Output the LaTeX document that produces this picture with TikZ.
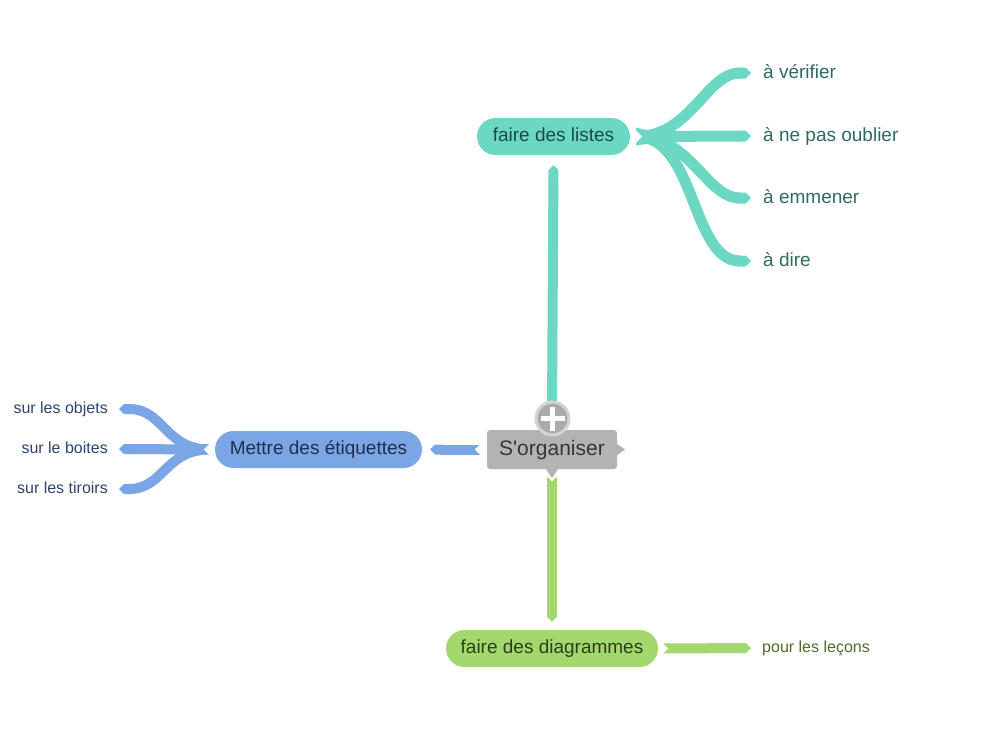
\documentclass[tikz,border=0pt]{standalone}
\usepackage{fontspec}
\setmainfont{Liberation Sans}
\usetikzlibrary{arrows.meta,calc}
\definecolor{tealF}{HTML}{6CD7C3}
\definecolor{tealT}{HTML}{2E6B60}
\definecolor{tealB}{HTML}{1E4A42}
\definecolor{blueF}{HTML}{7BA6E6}
\definecolor{blueT}{HTML}{2C4570}
\definecolor{blueB}{HTML}{1E2F4F}
\definecolor{greenF}{HTML}{A4D86F}
\definecolor{greenT}{HTML}{4D6B2D}
\definecolor{greenB}{HTML}{2D3D1C}
\definecolor{greyF}{HTML}{B3B3B3}
\definecolor{greyT}{HTML}{363636}
\definecolor{plusF}{HTML}{ABABAB}
\definecolor{plusR}{HTML}{D4D4D4}
\begin{document}
\begin{tikzpicture}[x=1pt,y=-1pt,
  pill/.style={rounded corners=18.5pt, minimum height=37pt, inner sep=0pt,
    font=\fontsize{19}{22}\selectfont, text height=14pt, text depth=4pt},
  leafR/.style={inner sep=0pt, anchor=west, font=\fontsize{19}{22}\selectfont, text height=14pt, text depth=4pt},
  leafL/.style={inner sep=0pt, anchor=east, font=\fontsize{16}{19}\selectfont, text height=12pt, text depth=3.5pt},
  branch/.style={line width=10pt, -{Triangle Cap}},
  tbranch/.style={line width=11pt, -{Triangle Cap}},
  notch/.style={fill=white, draw=none},
]
\useasboundingbox (0,0) rectangle (1006,734);

% nodes
\node[pill, fill=tealF, text=tealB, minimum width=153pt] (listes) at (553.5,136.5) {faire des listes};
\node[pill, fill=blueF, text=blueB, minimum width=207pt] (etiq) at (318.5,449.5) {Mettre des étiquettes};
\node[pill, fill=greenF, text=greenB, minimum width=212pt] (diag) at (552,648.5) {faire des diagrammes};

\node[leafR, text=tealT] (v1) at (763,73) {à vérifier};
\node[leafR, text=tealT] (v2) at (763,136) {à ne pas oublier};
\node[leafR, text=tealT] (v3) at (763,198) {à emmener};
\node[leafR, text=tealT] (v4) at (763,261) {à dire};

\node[leafL, text=blueT] (b1) at (108,409) {sur les objets};
\node[leafL, text=blueT] (b2) at (108,449) {sur le boites};
\node[leafL, text=blueT] (b3) at (108,489) {sur les tiroirs};

\node[leafL, anchor=west, text=greenT] (g1) at (762,648) {pour les leçons};

% central node position
\coordinate (cpos) at (552,449.5);

% teal branches
\coordinate (troot) at ($(listes.east)+(6,0)$);
\draw[tbranch, tealF] (troot) .. controls +(55,0) and +(-45,0) .. ($(v1.west)+(-12,0)$);
\draw[tbranch, tealF] (troot) -- ($(v2.west)+(-12,0)$);
\draw[tbranch, tealF] (troot) .. controls +(55,0) and +(-45,0) .. ($(v3.west)+(-12,0)$);
\draw[tbranch, tealF] (troot) .. controls +(60,0) and +(-60,0) .. ($(v4.west)+(-12,0)$);
\fill[tealF] (troot) ++(0,-9) .. controls +(20,5) .. ++(40,3) -- ++(0,12) .. controls +(-20,0) .. ++(-40,3) -- cycle;
\fill[notch] (troot) ++(0,-6) -- ++(6,6) -- ++(-6,6) -- cycle;

% blue branches
\coordinate (broot) at ($(etiq.west)+(-5,0)$);
\draw[branch, blueF] (broot) .. controls +(-45,0) and +(45,0) .. ($(b1.east)+(11,0)$);
\draw[branch, blueF] (broot) -- ($(b2.east)+(11,0)$);
\draw[branch, blueF] (broot) .. controls +(-45,0) and +(45,0) .. ($(b3.east)+(11,0)$);
\fill[notch] (broot) ++(0,-6) -- ++(-6,6) -- ++(6,6) -- cycle;

% green leaf
\coordinate (groot) at ($(diag.east)+(4,0)$);
\draw[branch, greenF] (groot) -- ($(g1.west)+(-11,0)$);
\fill[notch] (groot) ++(0,-6) -- ++(6,6) -- ++(-6,6) -- cycle;

% central node
\node[fill=greyF, text=greyT, rounded corners=3pt, minimum width=130pt, minimum height=39pt,
  inner sep=0pt, font=\fontsize{21}{25}\selectfont, text height=15.5pt, text depth=4.5pt] (central) at (cpos) {S\textquotesingle organiser};

% main connectors
\coordinate (tstart) at ($(central.north)+(0,-20)$);
\draw[tealF, line width=10pt, -{Triangle Cap}] (tstart) -- ($(listes.south)+(0,10)$);

\coordinate (bstart) at ($(central.west)+(-6,0)$);
\draw[branch, blueF] (bstart) -- ($(etiq.east)+(8,0)$);
\fill[notch] (bstart) ++(0,-6) -- ++(-6,6) -- ++(6,6) -- cycle;

\coordinate (gstart) at ($(central.south)+(0,6)$);
\draw[branch, greenF] (gstart) -- ($(diag.north)+(0,-8)$);
\fill[notch] (gstart) ++(-6,0) -- ++(6,6) -- ++(6,-6) -- cycle;

% central pointers
\fill[greyF] ($(central.east)+(0,-5.5)$) -- ++(8,5.5) -- ++(-8,5.5) -- cycle;
\fill[greyF] ($(central.south)+(-6,0)$) -- ++(6,9) -- ++(6,-9) -- cycle;

% plus button
\node[circle, fill=plusF, draw=plusR, line width=3pt, minimum size=33pt, inner sep=0pt] (plus) at (552.5,418.5) {};
\draw[white, line width=5pt] ($(plus.center)+(-12,0)$) -- ($(plus.center)+(12,0)$);
\draw[white, line width=5pt] ($(plus.center)+(0,-12)$) -- ($(plus.center)+(0,12)$);
\end{tikzpicture}
\end{document}
